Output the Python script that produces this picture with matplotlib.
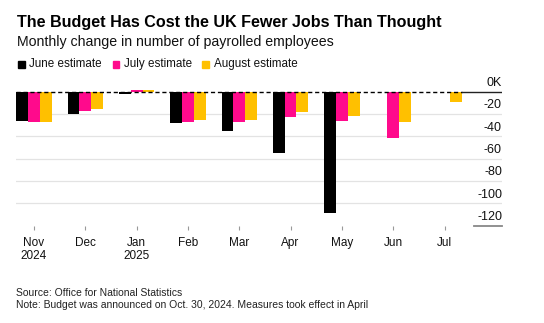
import numpy as np
import matplotlib
matplotlib.use("Agg")
import matplotlib.pyplot as plt
from matplotlib.patches import Rectangle
from matplotlib.transforms import blended_transform_factory

plt.rcParams['font.family'] = ['Liberation Sans', 'DejaVu Sans']

# ---- data ----
months = ["Nov\n2024", "Dec", "Jan\n2025", "Feb", "Mar", "Apr", "May", "Jun", "Jul"]
series_names = ["June estimate", "July estimate", "August estimate"]
june_est = [-26, -20, -2.5, -28, -35, -55, -109, np.nan, np.nan]
july_est = [-27, -17, 1.5, -27, -27, -23, -26, -41.5, np.nan]
aug_est = [-27.5, -15.5, 1.5, -25.5, -25.5, -18, -22, -27, -9]
ytick_values = [0, -20, -40, -60, -80, -100, -120]
ytick_labels = ["0K", "-20", "-40", "-60", "-80", "-100", "-120"]
colors = ["#000000", "#FF0A8C", "#FFC000"]

W, H = 544, 323
fig = plt.figure(figsize=(W / 100, H / 100), dpi=100)
ax_left, ax_right, ax_top, ax_bottom = 16, 502, 86.1, 225.7
ax = fig.add_axes([ax_left / W, 1 - ax_bottom / H, (ax_right - ax_left) / W, (ax_bottom - ax_top) / H])

x = np.arange(len(months))
bw = 0.23
for i, (vals, c) in enumerate(zip([june_est, july_est, aug_est], colors)):
    ax.bar(x + (i - 1) * bw, vals, width=bw, color=c, zorder=3, linewidth=0)

ax.set_xlim(-0.351, 9.12)
ax.set_ylim(-120, 5)

# gridlines
for v in ytick_values[1:-1]:
    ax.axhline(v, color="#e3e3e3", lw=0.9, zorder=1)
# zero line: dashed over the bars, solid near labels
grp_end = x[-1] + 1.5 * bw
ax.plot([ax.get_xlim()[0], grp_end], [0, 0], color="black", lw=1.0, ls=(0, (3, 2)), zorder=4)
ax.plot([grp_end, ax.get_xlim()[1]], [0, 0], color="#222222", lw=1.0, zorder=4)
# short bottom line under last label
trans = blended_transform_factory(ax.transAxes, ax.transData)
ax.plot([0.942, 1.0], [ytick_values[-1]] * 2, color="#888888", lw=1.3, transform=trans, clip_on=False)

# y labels inside, above gridlines
for v, lab in zip(ytick_values, ytick_labels):
    ax.annotate(lab, xy=(1.0, v), xycoords=trans, xytext=(0, 6.3), textcoords="offset points",
                ha="right", va="center", fontsize=9, color="#111111")

ax.set_yticks([])
ax.set_xticks(x, months)
ax.tick_params(axis="x", length=2.6, width=0.8, color="#999999", pad=5.5, labelsize=8.5, labelcolor="#111111")
for lbl in ax.get_xticklabels():
    lbl.set_linespacing(1.15)
for s in ax.spines.values():
    s.set_visible(False)

# title / subtitle
fig.text(17 / W, 1 - 22 / H, "The Budget Has Cost the UK Fewer Jobs Than Thought",
         fontsize=11.6, fontweight="bold", va="center", ha="left", color="#000000")
fig.text(17 / W, 1 - 42 / H, "Monthly change in number of payrolled employees",
         fontsize=10.2, va="center", ha="left", color="#111111")

# legend
sq_x = [18.3, 112.7, 202.3]
tx_x = [29.3, 124, 214.3]
sq = 6.7
ly = 64.3
for name, c, sx, tx in zip(series_names, colors, sq_x, tx_x):
    fig.patches.append(Rectangle((sx / W, 1 - (ly + sq / 2) / H), sq / W, sq / H,
                                 transform=fig.transFigure, color=c, figure=fig))
    fig.text(tx / W, 1 - ly / H, name, fontsize=8.4, va="center", ha="left", color="#111111")

# footer
fig.text(16 / W, 1 - 293.3 / H, "Source: Office for National Statistics",
         fontsize=7.5, va="center", ha="left", color="#222222")
fig.text(16 / W, 1 - 305 / H, "Note: Budget was announced on Oct. 30, 2024. Measures took effect in April",
         fontsize=7.5, va="center", ha="left", color="#222222")

fig.savefig("out.png", dpi=100, facecolor="white")
